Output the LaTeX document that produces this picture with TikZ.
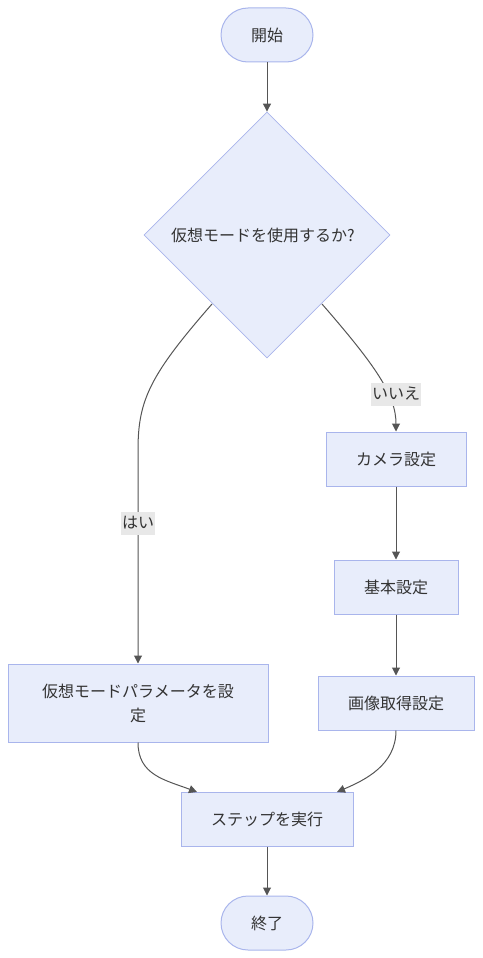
\documentclass[tikz,border=0pt]{standalone}
\usepackage{fontspec}
\setmainfont{Noto Sans CJK JP}
\usetikzlibrary{arrows.meta,shapes.geometric}
\definecolor{nodefill}{HTML}{E8EDFB}
\definecolor{nodeline}{HTML}{A9B5EC}
\definecolor{edgecol}{HTML}{555555}
\definecolor{txt}{HTML}{333333}
\definecolor{lblbg}{HTML}{E8E8E8}
\begin{document}
\begin{tikzpicture}[x=1pt,y=-1pt,
  every node/.style={font=\fontsize{16}{24}\selectfont, text=txt},
  boxnode/.style={draw=nodeline, fill=nodefill, line width=1pt, minimum height=54pt, inner sep=0pt},
  termnode/.style={boxnode, rounded corners=27pt, minimum width=92pt},
  decnode/.style={diamond, draw=nodeline, fill=nodefill, line width=0.8pt, minimum width=246pt, minimum height=246pt, inner sep=0pt, aspect=1},
  edge/.style={draw=edgecol, line width=1pt, -{Triangle[length=8pt,width=8pt]}},
  lbl/.style={fill=lblbg, inner sep=1pt, minimum height=23pt}
]
\useasboundingbox (0,0) rectangle (482,958);
\node[termnode] (start) at (267,35) {開始};
\node[decnode] (dec) at (267,235) {};
\node (dectext) at (263,235) {仮想モードを使用するか?};
\node[boxnode, minimum width=140pt] (cam) at (396,459) {カメラ設定};
\node[boxnode, minimum width=124pt] (kihon) at (396,587) {基本設定};
\node[boxnode, minimum width=156pt] (gazou) at (396,703) {画像取得設定};
\node[boxnode, minimum width=260pt, minimum height=78pt, align=center] (param) at (138,703) {仮想モードパラメータを設\\定};
\node[boxnode, minimum width=172pt] (step) at (267,819) {ステップを実行};
\node[termnode] (end) at (267,923) {終了};

\coordinate (dl) at (212,304);
\coordinate (dr) at (322,304);
\coordinate (ps) at (197,792);
\coordinate (gs) at (337,792);

\draw[edge] (start) -- (dec);
\draw[edge] (dl) .. controls (150,375) and (138,400) .. (138,450) -- (param.north);
\draw[edge] (dr) .. controls (375,365) and (396,395) .. (cam.north);
\draw[edge] (cam) -- (kihon);
\draw[edge] (kihon) -- (gazou);
\draw[edge] (param.south) .. controls (138,775) and (165,780) .. (ps);
\draw[edge] (gazou.south) .. controls (396,765) and (365,780) .. (gs);
\draw[edge] (step) -- (end);

\node[lbl] (yes) at (138,523) {はい};
\node[lbl] (no) at (396,394) {いいえ};
\end{tikzpicture}
\end{document}
